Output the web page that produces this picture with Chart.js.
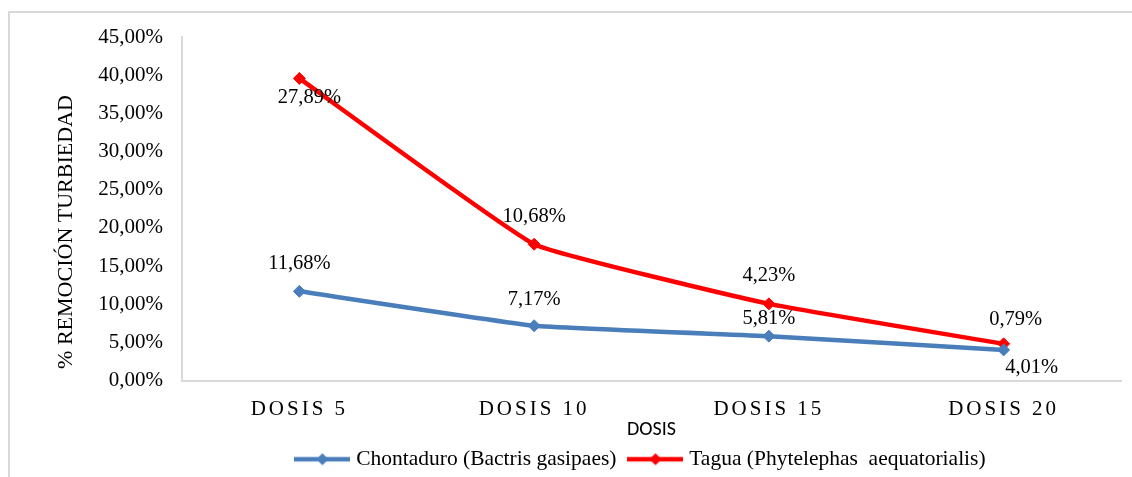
<!DOCTYPE html>
<html>
<head>
<meta charset="utf-8">
<script src="https://cdn.jsdelivr.net/npm/chart.js@4.4.1/dist/chart.umd.min.js"></script>
<style>
  html, body { margin: 0; padding: 0; background: #fff; }
  #wrap { position: relative; width: 1132px; height: 477px; overflow: hidden; }
  #frame { position: absolute; left: 8px; top: 11px; width: 1140px; height: 480px;
           border-top: 2px solid #d9d9d9; border-left: 2px solid #d9d9d9; }
  #chart { position: absolute; left: 0; top: 0; }
</style>
</head>
<body>
<div id="wrap">
  <div id="frame"></div>
  <canvas id="chart" width="1132" height="477"></canvas>
</div>
<script>
// categories and values (Tagua is stacked on Chontaduro)
const categories = ["DOSIS 5", "DOSIS 10", "DOSIS 15", "DOSIS 20"];
const chontaduro = [11.68, 7.17, 5.81, 4.01];
const tagua = [27.89, 10.68, 4.23, 0.79];
const seriesNames = ["Chontaduro (Bactris gasipaes)", "Tagua (Phytelephas  aequatorialis)"];
const yMin = 0, yMax = 45, yStep = 5;

// where each data label sits relative to its point
const chontaduroLabelShift = [[0, -28], [0, -26], [0, -18], [28, 18]];
const taguaLabelShift = [[10, 19], [0, -28], [0, -28], [12, -24]];
const labelShifts = [chontaduroLabelShift, taguaLabelShift];

const SERIF = '"Liberation Serif", "Times New Roman", serif';
const BLUE = "#4a7ebb";
const RED = "#ff0000";

const pct = (v) => Number(v).toFixed(2).replace(".", ",") + "%";

// little line + diamond used as legend marker
function legendMark(color) {
  const c = document.createElement("canvas");
  c.width = 56;
  c.height = 14;
  const g = c.getContext("2d");
  g.strokeStyle = color;
  g.lineWidth = 4.5;
  g.beginPath();
  g.moveTo(0, 7);
  g.lineTo(56, 7);
  g.stroke();
  g.fillStyle = color;
  g.beginPath();
  g.moveTo(28, 1);
  g.lineTo(34, 7);
  g.lineTo(28, 13);
  g.lineTo(22, 7);
  g.closePath();
  g.fill();
  return c;
}
const marks = [legendMark(BLUE), legendMark(RED)];

const extras = {
  id: "extras",
  afterLayout(chart) {
    // legend in the picture is centred a bit right of the canvas centre
    const lg = chart.legend;
    lg.left += 82;
    lg.right += 82;
    lg.top += 3;
    lg.bottom += 3;
  },
  afterDatasetsDraw(chart) {
    const ctx = chart.ctx;
    ctx.save();
    ctx.font = "20.5px " + SERIF;
    ctx.fillStyle = "#000";
    ctx.textAlign = "center";
    ctx.textBaseline = "middle";
    chart.data.datasets.forEach((ds, i) => {
      chart.getDatasetMeta(i).data.forEach((pt, j) => {
        const [dx, dy] = labelShifts[i][j];
        ctx.fillText(pct(ds.data[j]), pt.x + dx, pt.y + dy);
      });
    });
    // y axis title
    ctx.translate(66, 232);
    ctx.rotate(-Math.PI / 2);
    ctx.font = "22px " + SERIF;
    ctx.fillText("% REMOCIÓN TURBIEDAD", 0, 0);
    ctx.restore();
    // x tick labels (z: 1) are drawn right after this, spaced out
    ctx.letterSpacing = "3px";
  },
  afterDraw(chart) {
    chart.ctx.letterSpacing = "0px";
  },
};

new Chart(document.getElementById("chart"), {
  type: "line",
  plugins: [extras],
  data: {
    labels: categories,
    datasets: [
      {
        label: seriesNames[0],
        data: chontaduro,
        borderColor: BLUE,
        backgroundColor: BLUE,
        borderWidth: 4.5,
        pointStyle: "rectRot",
        pointRadius: 6,
        pointBorderWidth: 1,
        tension: 0.1,
        fill: false,
      },
      {
        label: seriesNames[1],
        data: tagua,
        borderColor: RED,
        backgroundColor: RED,
        borderWidth: 4.5,
        pointStyle: "rectRot",
        pointRadius: 6,
        pointBorderWidth: 1,
        tension: 0.1,
        fill: false,
      },
    ],
  },
  options: {
    responsive: false,
    animation: false,
    layout: { padding: { top: 37, right: 11, bottom: 0, left: 0 } },
    scales: {
      x: {
        offset: true,
        grid: { display: false, drawTicks: false },
        border: { color: "#d9d9d9", width: 2 },
        ticks: { z: 1, padding: 16, color: "#000", font: { family: SERIF, size: 21 } },
        title: {
          display: true,
          text: "DOSIS",
          color: "#000",
          font: { family: "Carlito, Lato, sans-serif", size: 20 },
          padding: { top: 0, bottom: -12 },
        },
        afterFit: (s) => { s.height = 49; },
      },
      y: {
        stacked: true,
        min: yMin,
        max: yMax,
        grid: { display: false, drawTicks: false },
        border: { color: "#d9d9d9", width: 2 },
        ticks: {
          stepSize: yStep,
          padding: 19,
          color: "#000",
          font: { family: SERIF, size: 21 },
          callback: (v) => pct(v),
        },
        afterFit: (s) => { s.width = 182; },
      },
    },
    plugins: {
      tooltip: { enabled: false },
      legend: {
        position: "bottom",
        labels: {
          usePointStyle: true,
          pointStyleWidth: 46,
          padding: 16,
          color: "#000",
          font: { family: SERIF, size: 21.5 },
          generateLabels: (chart) =>
            chart.data.datasets.map((ds, i) => ({
              text: ds.label,
              pointStyle: marks[i],
              fillStyle: ds.borderColor,
              strokeStyle: ds.borderColor,
              fontColor: "#000",
              lineWidth: 0,
              hidden: false,
              datasetIndex: i,
            })),
        },
      },
    },
  },
});
</script>
</body>
</html>
